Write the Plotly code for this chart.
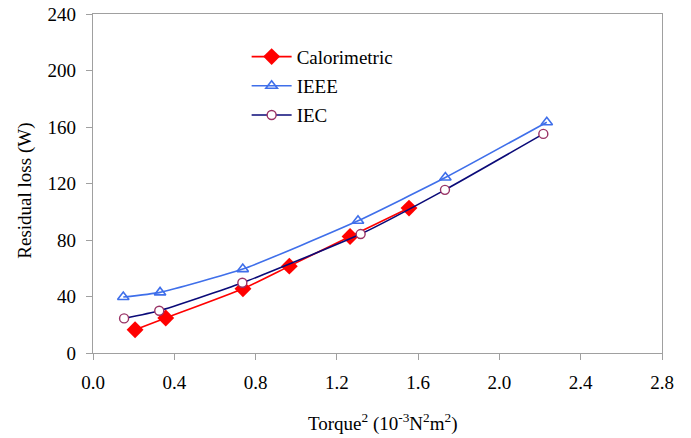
import plotly.graph_objects as go

cal_x = [0.207, 0.358, 0.738, 0.966, 1.265, 1.555]
cal_y = [16.5, 24.8, 45.5, 61.5, 82.5, 102.6]

ieee_x = [0.149, 0.33, 0.737, 1.304, 1.734, 2.233]
ieee_y = [39.6, 42.9, 59.4, 93.6, 124.2, 163.4]

iec_x = [0.153, 0.326, 0.735, 1.317, 1.732, 2.216]
iec_y = [24.5, 29.9, 49.7, 84.2, 115.5, 155.1]

x_ticks = [0.0, 0.4, 0.8, 1.2, 1.6, 2.0, 2.4, 2.8]
y_ticks = [0, 40, 80, 120, 160, 200, 240]

FONT = "Liberation Serif"

fig = go.Figure()
fig.add_trace(go.Scatter(
    x=cal_x, y=cal_y, name="Calorimetric", mode="lines+markers", legendgroup="a",
    line=dict(color="#FF0000", width=1.6, shape="spline", smoothing=0.5),
    marker=dict(symbol="diamond", size=13, color="#FF0000", line=dict(width=0)),
))
fig.add_trace(go.Scatter(
    x=ieee_x, y=ieee_y, name="IEEE", mode="lines+markers", legendgroup="b",
    line=dict(color="#3F6FEA", width=1.6, shape="spline", smoothing=0.5),
    marker=dict(symbol="triangle-up-open", size=10, color="#3F6FEA", line=dict(width=1.6)),
))
fig.add_trace(go.Scatter(
    x=iec_x, y=iec_y, name="IEC", mode="lines+markers", legendgroup="c",
    line=dict(color="#0A0A78", width=1.6, shape="spline", smoothing=0.5),
    marker=dict(symbol="circle", size=9, color="white", line=dict(width=1.4, color="#993366")),
))

axis_common = dict(
    showgrid=False, zeroline=False, showline=True, linecolor="#A0A0A0", linewidth=1.2,
    mirror=True, ticks="outside", ticklen=6, tickcolor="#A0A0A0", tickwidth=1.2,
    tickfont=dict(family=FONT, size=19, color="black"), automargin=False,
    ticklabeloverflow="allow",
)

fig.update_layout(
    width=691, height=438,
    margin=dict(l=93, r=29, t=14, b=85),
    paper_bgcolor="white", plot_bgcolor="white",
    font=dict(family=FONT, size=19, color="black"),
    xaxis=dict(range=[0, 2.8], tickvals=x_ticks, tickformat=".1f",
               ticklabelstandoff=6, **axis_common),
    yaxis=dict(range=[0, 240], tickvals=y_ticks, ticklabelstandoff=6, **axis_common),
    showlegend=True,
    legend=dict(x=0.27, y=0.93, xanchor="left", yanchor="top",
                bgcolor="rgba(0,0,0,0)", font=dict(family=FONT, size=19),
                itemwidth=40, tracegroupgap=1.5),
    annotations=[
        dict(text="Torque<sup>2</sup> (10<sup>-3</sup>N<sup>2</sup>m<sup>2</sup>)",
             xref="paper", yref="paper", x=0.51, y=-0.205, xanchor="center", yanchor="middle",
             showarrow=False, font=dict(family=FONT, size=19)),
        dict(text="Residual loss (W)", textangle=-90,
             xref="paper", yref="paper", x=-0.12, y=0.478, xanchor="center", yanchor="middle",
             showarrow=False, font=dict(family=FONT, size=19)),
    ],
)

fig.write_html("out.html", config={"displayModeBar": False},
               post_script="document.body.style.margin='0';document.body.style.overflow='hidden';")
